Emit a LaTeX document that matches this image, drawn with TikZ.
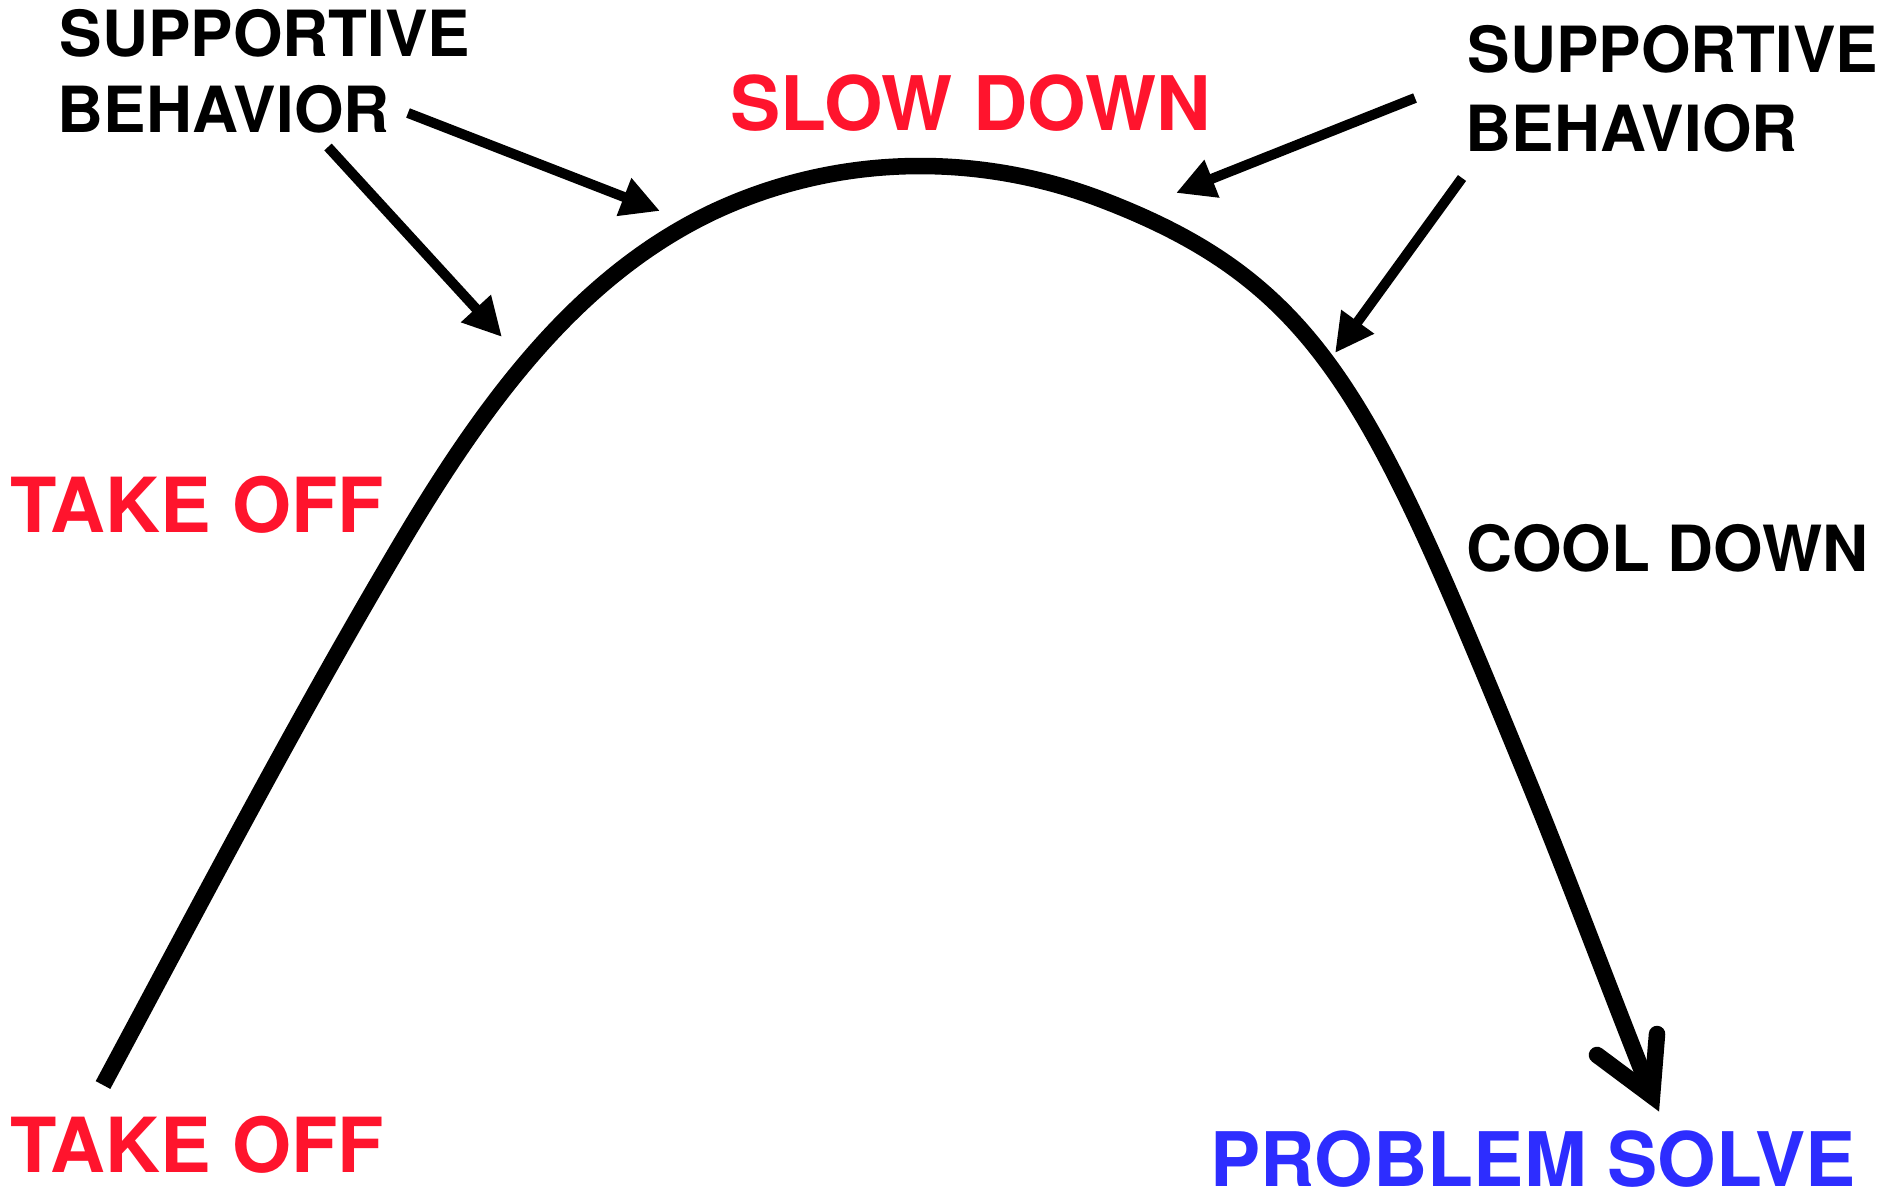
\documentclass[tikz,border=0pt]{standalone}
\usepackage{fontspec}
\setmainfont{TeX Gyre Heros}
\usetikzlibrary{arrows.meta}
\definecolor{lblred}{RGB}{255,20,45}
\definecolor{lblblue}{RGB}{45,45,255}
\tikzset{
  lbl/.style={inner sep=0pt, anchor=base west, font=\bfseries\fontsize{18.1pt}{20pt}\selectfont},
  biglbl/.style={inner sep=0pt, anchor=base west, font=\bfseries\fontsize{21.4pt}{23pt}\selectfont},
  pointer/.style={line width=2.85pt, -{Triangle[length=11pt,width=10.8pt]}},
  mainline/.style={line width=4.7pt}
}
\begin{document}
\begin{tikzpicture}[x=0.01cm,y=-0.01cm]
\useasboundingbox (0,0) rectangle (1904,1194);
% labels
\node[lbl] (sbLa) at (59,57) {SUPPORTIVE};
\node[lbl] (sbLb) at (57,133) {BEHAVIOR};
\node[lbl] (sbRa) at (1467,73) {SUPPORTIVE};
\node[lbl] (sbRb) at (1465,152) {BEHAVIOR};
\node[biglbl,text=lblred] (slow) at (730,131) {SLOW DOWN};
\node[biglbl,text=lblred,font=\bfseries\fontsize{21.6pt}{23pt}\selectfont] (takeA) at (10,532) {TAKE OFF};
\node[biglbl,text=lblred,font=\bfseries\fontsize{21.6pt}{23pt}\selectfont] (takeB) at (10,1172) {TAKE OFF};
\node[lbl] (cool) at (1466,571) {COOL DOWN};
\node[biglbl,text=lblblue] (solve) at (1210,1186) {PROBLEM SOLVE};
% pointer arrows
\coordinate (aS) at (408,113); \coordinate (aE) at (660,211);
\coordinate (bS) at (328,147); \coordinate (bE) at (502,337);
\coordinate (cS) at (1415,98); \coordinate (cE) at (1176,193);
\coordinate (dS) at (1462,178); \coordinate (dE) at (1335,353);
\draw[pointer] (aS) -- (aE);
\draw[pointer] (bS) -- (bE);
\draw[pointer] (cS) -- (cE);
\draw[pointer] (dS) -- (dE);
% main curve
\coordinate (cStart) at (103,1085);
\coordinate (vtx) at (1652,1096);
\draw[mainline] (cStart)
  .. controls (198,908) and (291,730) .. (393,557)
  .. controls (478,412) and (572,279) .. (713,212)
  .. controls (841,152) and (981,154) .. (1100,199)
  .. controls (1324,284) and (1373,403) .. (1528,780)
  .. controls (1571,885) and (1610,991) .. (vtx);
\coordinate (barbL) at (1597,1055);
\coordinate (barbR) at (1657,1034);
\draw[mainline, line cap=round, line join=miter] (barbL) -- (vtx) -- (barbR);
\end{tikzpicture}
\end{document}
